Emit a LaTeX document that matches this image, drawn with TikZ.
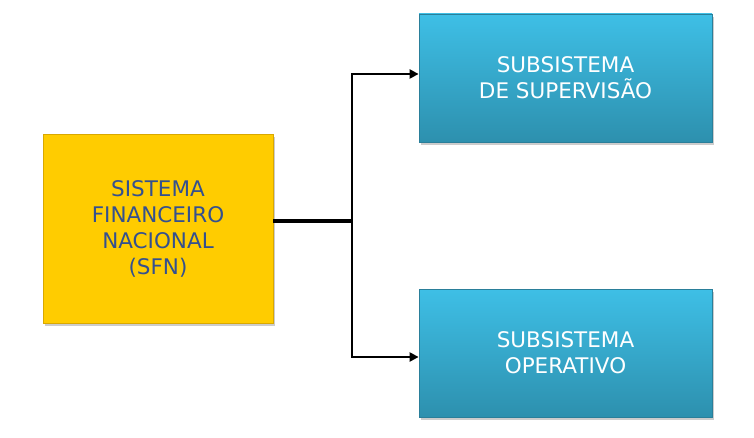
\documentclass[tikz,border=0pt]{standalone}
\usepackage{fontspec}
\setmainfont{DejaVu Sans}
\usepackage{xcolor}
\usepackage{tikz}
\usetikzlibrary{arrows.meta, shadows}

\definecolor{sfnyellow}{HTML}{FFCC00}
\definecolor{sfnedge}{HTML}{D9A800}
\definecolor{sfntext}{HTML}{34508F}
\definecolor{subtop}{HTML}{3EBFE6}
\definecolor{subbot}{HTML}{2D90AE}
\definecolor{subedge}{HTML}{2A7F9A}

\begin{document}
\begin{tikzpicture}[x=1pt, y=1pt,
    every node/.style={font=\fontsize{21.5}{26}\selectfont, align=center, inner sep=0pt},
    sfnbox/.style={draw=sfnedge, line width=0.8pt, fill=sfnyellow, text=sfntext,
        minimum width=230pt, minimum height=189pt,
        drop shadow={opacity=0.4, shadow xshift=1.5pt, shadow yshift=-3pt}},
    subbox/.style={draw=subedge, line width=0.8pt, top color=subtop, bottom color=subbot, text=white,
        minimum width=293pt, minimum height=128pt,
        drop shadow={opacity=0.4, shadow xshift=1.5pt, shadow yshift=-3pt}},
    link/.style={line width=2.6pt, -{Triangle[length=9pt, width=9pt]}}]
    \useasboundingbox (0,0) rectangle (754,437);
    \node[sfnbox] (sfn) at (158,208.5) {SISTEMA\\FINANCEIRO\\NACIONAL\\(SFN)};
    \node[subbox] (sup) at (565.5,359) {SUBSISTEMA\\DE SUPERVISÃO};
    \node[subbox] (ope) at (565.5,84) {SUBSISTEMA\\OPERATIVO};
    \coordinate (junc) at (352,216);
    \draw[line width=4pt] (sfn.east |- junc) -- (junc);
    \draw[link] ([yshift=-1.5pt]junc) |- ([yshift=4pt]sup.west);
    \draw[link] ([yshift=1.5pt]junc) |- ([yshift=-4pt]ope.west);
\end{tikzpicture}
\end{document}
